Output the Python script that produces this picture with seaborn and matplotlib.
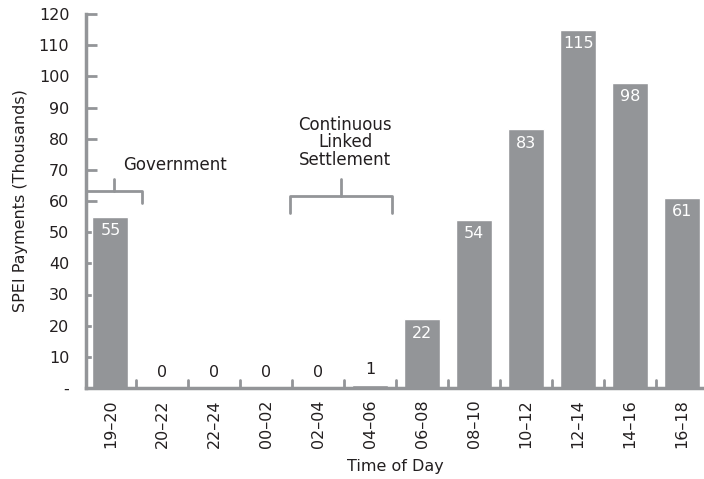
import matplotlib
matplotlib.use("Agg")
import matplotlib.pyplot as plt
import seaborn as sns
import pandas as pd

categories = ["19–20", "20–22", "22–24", "00–02", "02–04", "04–06",
              "06–08", "08–10", "10–12", "12–14", "14–16", "16–18"]
values = [55, 0, 0, 0, 0, 1, 22, 54, 83, 115, 98, 61]
ytick_vals = list(range(0, 121, 10))
ytick_labels = ["-"] + [str(v) for v in range(10, 121, 10)]

GRAY = "#939598"
TXT = "#231f20"
FS = 11.5

sns.set_theme(style="white")
plt.rcParams['font.family'] = ['DejaVu Sans']

df = pd.DataFrame({"time": categories, "value": values})

fig = plt.figure(figsize=(7.04, 4.79), dpi=100)
ax = fig.add_axes([86/704, (479-388)/479, (704-86)/704, (388-14)/479])

sns.barplot(data=df, x="time", y="value", color=GRAY, saturation=1,
            width=0.69, ax=ax, order=categories)

ax.set_xlim(-0.47, 11.42)
ax.set_ylim(0, 120)
ax.set_yticks(ytick_vals)
ax.set_yticklabels(ytick_labels, fontsize=FS, color=TXT)
ax.set_xticks(range(len(categories)))
ax.set_xticklabels(categories, rotation=90, fontsize=FS, color=TXT)
ax.tick_params(axis="x", length=0, pad=8)
ax.tick_params(axis="y", direction="in", length=8, width=2, color=GRAY, pad=12, left=True)

# boundary ticks on x axis
for b in [i + 0.5 for i in range(len(categories) - 1)]:
    ax.plot([b, b], [0, 2.5], color=GRAY, lw=2, clip_on=False, zorder=1)

for s in ["top", "right"]:
    ax.spines[s].set_visible(False)
for s in ["left", "bottom"]:
    ax.spines[s].set_color(GRAY)
    ax.spines[s].set_linewidth(2.5)

ax.set_xlabel("Time of Day", fontsize=FS, color=TXT, labelpad=8)
ax.set_ylabel("SPEI Payments (Thousands)", fontsize=FS, color=TXT, labelpad=8)

for i, v in enumerate(values):
    if v >= 10:
        ax.text(i, v - 2, str(v), ha="center", va="top", color="white", fontsize=FS)
    else:
        ax.text(i, v + 2.5, str(v), ha="center", va="bottom", color=TXT, fontsize=FS)

def brace(x0, x1, xc, ybar, yend, ypeak):
    ax.plot([x0, x0, x1, x1], [yend, ybar, ybar, yend], color=GRAY, lw=2,
            clip_on=False, solid_joinstyle="round")
    ax.plot([xc, xc], [ybar, ypeak], color=GRAY, lw=2, clip_on=False)

brace(-0.47, 0.6, 0.06, 63.3, 59.2, 67.2)
brace(3.46, 5.42, 4.44, 61.7, 56.0, 67.2)

ax.text(1.25, 71.4, "Government", ha="center", va="center", fontsize=12, color=TXT)
ax.text(4.52, 78.8, "Continuous\nLinked\nSettlement", ha="center", va="center",
        fontsize=12, color=TXT, linespacing=0.95)

fig.savefig("out.png", dpi=100)
